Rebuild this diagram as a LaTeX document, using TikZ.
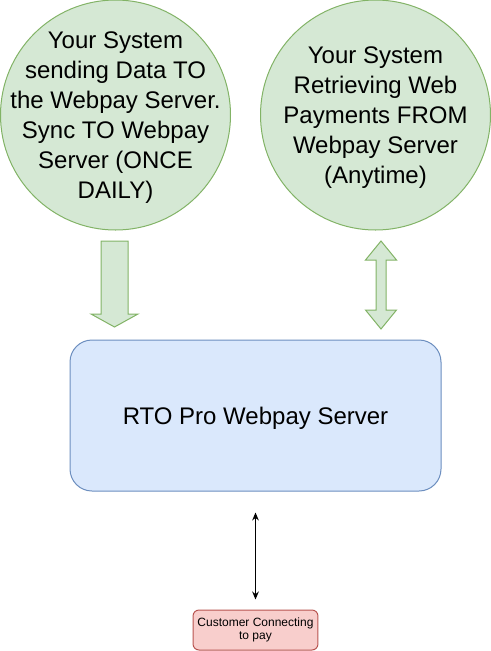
\documentclass[tikz,border=0pt]{standalone}
\usepackage{fontspec}
\setmainfont{Liberation Sans}
\usepackage{xcolor}
\usepackage{tikz}
\usetikzlibrary{arrows.meta, positioning}
\definecolor{syncgreen}{HTML}{D5E8D4}
\definecolor{syncedge}{HTML}{82B366}
\definecolor{serverblue}{HTML}{DAE8FC}
\definecolor{serveredge}{HTML}{6C8EBF}
\definecolor{payred}{HTML}{F8CECC}
\definecolor{payedge}{HTML}{B85450}
\tikzset{
  sysbubble/.style={circle, fill=syncgreen, draw=syncedge, line width=0.75pt, minimum size=172.5pt, inner sep=-30pt, text depth=0pt, align=center, font=\fontsize{18}{22.5}\selectfont},
  flowarrow/.style={fill=syncgreen, draw=syncedge, line width=0.75pt, line join=miter}
}

\begin{document}
\begin{tikzpicture}[x=0.75pt, y=-0.75pt]
  \useasboundingbox (0,0) rectangle (491,651);

  % Systems on the client side
  \node[sysbubble] (push) at (115.5,115) {Your System\\sending Data TO\\the Webpay Server.\\Sync TO Webpay\\Server (ONCE\\DAILY)};
  \node[sysbubble] (pull) at (375.5,115) {Your System\\Retrieving Web\\Payments FROM\\Webpay Server\\(Anytime)};

  % Webpay server
  \node[fill=serverblue, draw=serveredge, line width=0.75pt, rounded corners=16.5pt, minimum width=278.25pt, minimum height=113.25pt, text depth=0pt, font=\fontsize{18}{22.5}\selectfont] (srv) at (255.5,415.5) {RTO Pro Webpay Server};

  % Customer
  \node[fill=payred, draw=payedge, line width=0.75pt, rounded corners=4.5pt, minimum width=90.75pt, minimum height=30pt, align=center, font=\fontsize{9}{10}\selectfont] (cust) at (255.5,630) {Customer Connecting\\to pay};

  % Daily sync, one way
  \draw[flowarrow] (101,241) -- (128,241) -- (128,314) -- (138,314) -- (114.5,327) -- (91,314) -- (101,314) -- cycle;

  % Retrieval, both ways
  \draw[flowarrow] (381,241) -- (396.5,260) -- (386,260) -- (386,310) -- (396.5,310) -- (381,329) -- (365.5,310) -- (376,310) -- (376,260) -- (365.5,260) -- cycle;

  \draw[line width=0.75pt, {Stealth[length=6pt,width=5pt]}-{Stealth[length=6pt,width=5pt]}, shorten <=15.75pt, shorten >=7.5pt] (srv.south) -- (cust.north);
\end{tikzpicture}
\end{document}
